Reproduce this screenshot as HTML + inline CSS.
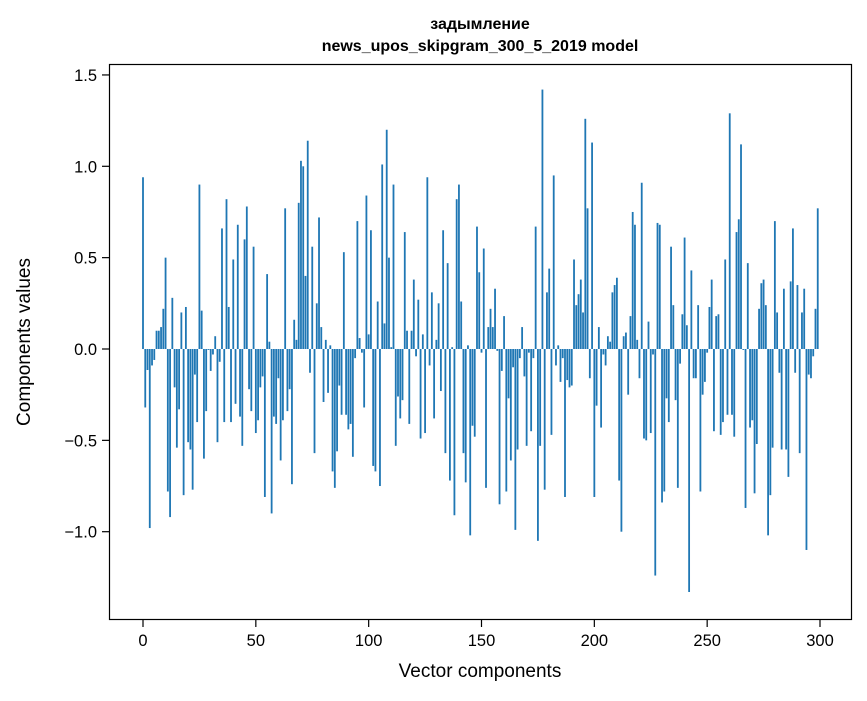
<!DOCTYPE html>
<html><head><meta charset="utf-8"><style>
body{margin:0;background:#fff;}
svg text{font-family:"Liberation Sans","DejaVu Sans",sans-serif;fill:#000;}
</style></head><body>
<svg id="chart" width="867" height="696" xmlns="http://www.w3.org/2000/svg">
<rect width="867" height="696" fill="#fff"/>
<text x="480" y="29" text-anchor="middle" font-size="16" font-weight="bold">задымление</text>
<text x="480" y="51" text-anchor="middle" font-size="16" font-weight="bold">news_upos_skipgram_300_5_2019 model</text>
<g id="bars"></g>
<g id="axes"></g>
<rect x="109.5" y="64.5" width="742" height="555" fill="none" stroke="#000" stroke-width="1.2"/>
<text x="480" y="677" text-anchor="middle" font-size="19">Vector components</text>
<text transform="translate(30,342) rotate(-90)" text-anchor="middle" font-size="19">Components values</text>
</svg>
<script>
const values=[0.94,-0.32,-0.115,-0.98,-0.09,-0.06,0.10,0.10,0.12,0.22,0.50,-0.78,-0.92,0.28,-0.21,-0.54,-0.33,0.20,-0.80,0.23,
-0.51,-0.55,-0.77,-0.14,-0.40,0.90,0.21,-0.60,-0.34,-0.005,-0.12,-0.03,0.07,-0.51,-0.07,0.66,-0.40,0.82,0.23,-0.40,
0.49,-0.30,0.68,-0.37,-0.53,0.60,0.78,-0.22,-0.34,0.56,-0.46,-0.39,-0.21,-0.15,-0.81,0.41,0.04,-0.90,-0.37,-0.41,
-0.16,-0.61,-0.39,0.77,-0.34,-0.22,-0.74,0.16,0.05,0.80,1.03,1.00,0.40,1.14,-0.13,0.56,-0.57,0.25,0.72,0.12,
-0.29,0.05,-0.24,0.02,-0.67,-0.76,-0.56,-0.20,-0.36,0.53,-0.36,-0.44,-0.41,-0.59,-0.05,0.70,0.06,-0.02,-0.32,0.84,
0.08,0.65,-0.64,-0.67,0.26,-0.75,1.01,0.14,1.20,0.50,0.01,0.90,-0.53,-0.26,-0.38,-0.28,0.64,0.10,-0.41,0.10,
0.38,-0.04,0.27,-0.49,0.08,-0.46,0.94,-0.09,0.31,-0.38,0.05,0.25,-0.23,0.65,-0.57,0.47,-0.72,0.01,-0.91,0.82,
0.90,0.26,-0.57,-0.73,0.02,-1.02,-0.42,-0.48,0.67,0.42,-0.02,0.55,-0.76,0.12,0.22,0.12,0.33,-0.01,-0.85,-0.12,
0.18,-0.78,-0.27,-0.61,-0.10,-0.99,-0.55,-0.05,0.12,-0.15,-0.53,-0.02,-0.45,-0.05,0.67,-1.05,-0.53,1.42,-0.77,0.31,
0.44,-0.47,0.95,-0.09,0.02,-0.18,-0.05,-0.81,-0.17,-0.21,-0.20,0.49,0.24,0.30,0.38,0.20,1.26,0.77,-0.16,1.13,
-0.81,-0.31,0.12,-0.43,-0.03,-0.09,0.07,0.04,0.31,0.35,0.39,-0.72,-1.00,0.07,0.09,-0.25,0.18,0.75,0.68,0.05,
-0.16,0.91,-0.49,-0.50,0.15,-0.46,-0.03,-1.24,0.69,0.68,-0.84,-0.78,-0.27,-0.40,0.56,0.24,-0.28,-0.76,-0.08,0.19,
0.61,0.13,-1.33,0.43,-0.16,-0.16,0.24,-0.78,-0.25,-0.18,-0.02,0.23,0.38,-0.45,0.18,0.19,-0.47,-0.40,0.49,-0.36,
1.29,-0.36,-0.48,0.64,0.71,1.12,-0.005,-0.87,0.47,-0.43,-0.39,-0.79,-0.52,0.22,0.36,0.38,0.24,-1.02,-0.80,-0.54,
0.70,0.20,-0.13,-0.55,0.33,-0.55,-0.70,0.37,0.66,-0.13,0.35,-0.57,0.20,0.33,-1.10,-0.14,-0.16,-0.04,0.22,0.77];
const xTicks=[0,50,100,150,200,250,300];
const yTicks=[-1.0,-0.5,0.0,0.5,1.0,1.5];
const yTickLabels=["\u22121.0","\u22120.5","0.0","0.5","1.0","1.5"];
const NS="http://www.w3.org/2000/svg";
function xs(i){return 143+i*(677/300);}
function ys(v){return 349-v*182.7;}
const bw=0.8*(677/300);
const gb=document.getElementById('bars');
values.forEach((v,i)=>{
 const r=document.createElementNS(NS,'rect');
 
 
 r.setAttribute('x',xs(i)-bw/2);
 r.setAttribute('y',Math.min(ys(v),ys(0)));
 r.setAttribute('width',bw);
 r.setAttribute('height',Math.abs(ys(v)-ys(0)));
 r.setAttribute('fill','#1f77b4');
 gb.appendChild(r);
});
const ga=document.getElementById('axes');
xTicks.forEach(t=>{
 const l=document.createElementNS(NS,'line');
 
 
 l.setAttribute('x1',xs(t));l.setAttribute('x2',xs(t));
 l.setAttribute('y1',620);l.setAttribute('y2',627);
 l.setAttribute('stroke','#000');l.setAttribute('stroke-width','1.2');
 ga.appendChild(l);
 const tx=document.createElementNS(NS,'text');
 
 
 tx.setAttribute('x',xs(t));tx.setAttribute('y',646);
 tx.setAttribute('text-anchor','middle');tx.setAttribute('font-size','16.5');
 tx.textContent=String(t);
 ga.appendChild(tx);
});
yTicks.forEach((t,k)=>{
 const l=document.createElementNS(NS,'line');
 
 
 l.setAttribute('x1',102);l.setAttribute('x2',109);
 l.setAttribute('y1',ys(t));l.setAttribute('y2',ys(t));
 l.setAttribute('stroke','#000');l.setAttribute('stroke-width','1.2');
 ga.appendChild(l);
 const tx=document.createElementNS(NS,'text');
 
 
 tx.setAttribute('x',97);tx.setAttribute('y',ys(t)+6);
 tx.setAttribute('text-anchor','end');tx.setAttribute('font-size','16.5');
 tx.textContent=yTickLabels[k];
 ga.appendChild(tx);
});
</script>
</body></html>
